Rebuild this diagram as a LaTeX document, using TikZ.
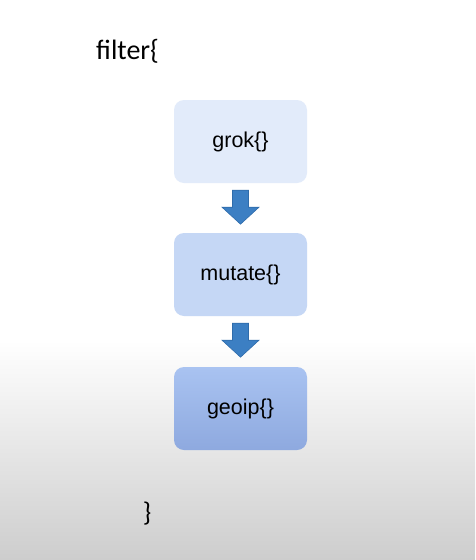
\documentclass[tikz,border=0pt]{standalone}
\usepackage{fontspec}
\setmainfont{Liberation Sans}
\newfontfamily\calib{Carlito}
\newcommand{\lowered}[1]{\raisebox{-4pt}{#1}}
\begin{document}
\begin{tikzpicture}[x=1pt,y=-1pt,
  stagebox/.style={rounded corners=10pt, minimum width=133pt, minimum height=83pt, inner sep=0pt, font=\fontsize{21.5}{24}\selectfont},
  downarrow/.style={fill=arrowblue, draw=arrowedge, line width=0.6pt, line join=miter}
]
\definecolor{arrowblue}{HTML}{3C7FC3}
\definecolor{arrowedge}{HTML}{2F6CAB}
\definecolor{boxa}{HTML}{E2EBFA}
\definecolor{boxb}{HTML}{C5D7F5}
\definecolor{boxctop}{HTML}{A9C3F1}
\definecolor{boxcbot}{HTML}{8EA9DF}
\definecolor{bggray}{HTML}{CDCDCD}
\definecolor{bgmid}{HTML}{EDEDED}
\useasboundingbox (0,0) rectangle (475,560);
\fill[white] (0,0) rectangle (475,340);
\shade[top color=white, bottom color=bgmid] (0,340) rectangle (475,420);
\shade[top color=bgmid, bottom color=bggray] (0,420) rectangle (475,560);
\node[font=\calib\fontsize{28}{32}\selectfont, anchor=base west, inner sep=0pt] (filt) at (96,59) {filter\{};
\node[stagebox, fill=boxa] (grok) at (240.5,141.5) {\lowered{grok\{\}}};
\node[stagebox, fill=boxb] (mutate) at (240.5,274.5) {\lowered{mutate\{\}}};
\node[stagebox, top color=boxctop, bottom color=boxcbot] (geoip) at (240.5,408.5) {\lowered{geoip\{\}}};
\node[font=\calib\fontsize{27}{30}\selectfont, inner sep=0pt] (close) at (147,514) {\}};
% arrows
\path (grok.south) ++(0,7) coordinate (a1top);
\path (mutate.south) ++(0,7) coordinate (a2top);
\foreach \t in {a1top,a2top}{
  \draw[downarrow] (\t) ++(-8,0) -- ++(16,0) -- ++(0,17) -- ++(10.5,0) -- ++(-18.5,17) -- ++(-18.5,-17) -- ++(10.5,0) -- cycle;
}
\end{tikzpicture}
\end{document}
